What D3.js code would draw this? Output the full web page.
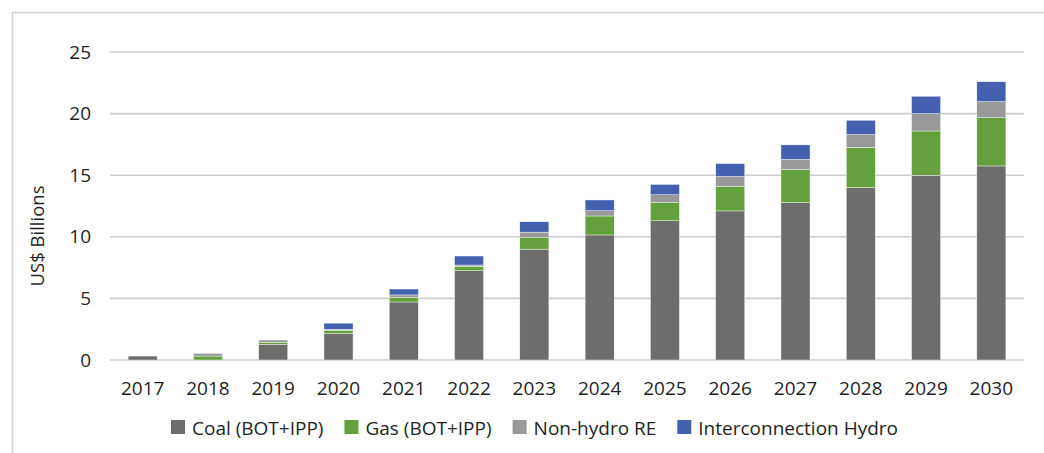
<!DOCTYPE html>
<html lang="en">
<head>
  <meta charset="UTF-8">
  <script src="https://cdn.jsdelivr.net/npm/d3@7"></script>
  <title>Investment by source</title>
  <style>
    body { margin: 0; background: #fff; }
    text { font-family: "Open Sans", sans-serif; fill: #1f1f1f; }
  </style>
</head>
<body>
  <script>
      // chart data (US$ billions)
      var years = ["2017","2018","2019","2020","2021","2022","2023","2024","2025","2026","2027","2028","2029","2030"];
      var seriesNames = ["Coal (BOT+IPP)", "Gas (BOT+IPP)", "Non-hydro RE", "Interconnection Hydro"];
      var coal  = [0.32, 0, 1.27, 2.16, 4.71, 7.25, 9.0, 10.15, 11.3, 12.1, 12.8, 14.0, 15.0, 15.75];
      var gas   = [0, 0.32, 0.16, 0.26, 0.38, 0.35, 0.92, 1.54, 1.51, 2.0, 2.68, 3.27, 3.59, 3.92];
      var re    = [0, 0.22, 0.19, 0.08, 0.19, 0.11, 0.46, 0.43, 0.6, 0.79, 0.81, 1.03, 1.41, 1.3];
      var hydro = [0, 0, 0, 0.49, 0.48, 0.73, 0.84, 0.87, 0.84, 1.05, 1.17, 1.16, 1.41, 1.62];
      var yTicks = [0, 5, 10, 15, 20, 25];

      var colors = ["#6d6e6c", "#65a03e", "#999999", "#4361ae"];

      var width = 1044, height = 453;

      var svg = d3.select("body")
        .append("svg")
        .attr("width", width)
        .attr("height", height);

      // outer frame (runs off the right and bottom edge)
      svg.append("rect")
        .attr("x", 12.5).attr("y", 12.5)
        .attr("width", 1100).attr("height", 500)
        .attr("fill", "none")
        .attr("stroke", "#d4d4d4")
        .attr("stroke-width", 1.5);

      var x = d3.scaleBand()
        .domain(years)
        .range([110, 1024])
        .paddingInner(0.555)
        .paddingOuter(0.2775);

      var y = d3.scaleLinear()
        .domain([0, 25])
        .range([360, 52]);

      // gridlines
      svg.append("g")
        .selectAll("line")
        .data(yTicks)
        .enter().append("line")
        .attr("x1", 110).attr("x2", 1024)
        .attr("y1", function(d){ return y(d); })
        .attr("y2", function(d){ return y(d); })
        .attr("stroke", "#cccccc")
        .attr("stroke-width", 1.6);

      // y axis labels
      var yAxis = svg.append("g")
        .attr("transform", "translate(110,0)")
        .call(d3.axisLeft(y).tickValues(yTicks).tickSize(0).tickPadding(19));
      yAxis.select(".domain").remove();
      yAxis.selectAll("text")
        .style("font-family", "'Open Sans', sans-serif")
        .style("font-size", "19px")
        .attr("fill", "#1f1f1f");

      // x axis labels
      var xAxis = svg.append("g")
        .attr("transform", "translate(0,360)")
        .call(d3.axisBottom(x).tickSize(0).tickPadding(22));
      xAxis.select(".domain").remove();
      xAxis.selectAll("text")
        .style("font-family", "'Open Sans', sans-serif")
        .style("font-size", "19px")
        .attr("fill", "#1f1f1f");

      // axis title
      svg.append("text")
        .attr("transform", "translate(44,236) rotate(-90)")
        .attr("text-anchor", "middle")
        .style("font-size", "18.5px")
        .text("US$ Billions");

      // stack the series
      var rows = years.map(function(yr, i){
        return { year: yr, s0: coal[i], s1: gas[i], s2: re[i], s3: hydro[i] };
      });
      var stacked = d3.stack().keys(["s0","s1","s2","s3"])(rows);

      var layers = svg.append("g")
        .selectAll("g")
        .data(stacked)
        .enter().append("g")
        .attr("fill", function(d, i){ return colors[i]; });

      layers.selectAll("rect")
        .data(function(d){ return d.filter(function(p){ return p[1] - p[0] > 0; }); })
        .enter().append("rect")
        .attr("x", function(d){ return x(d.data.year); })
        .attr("width", x.bandwidth())
        .attr("y", function(d){ return y(d[1]); })
        .attr("height", function(d){ return y(d[0]) - y(d[1]); })
        .attr("stroke", "#ffffff")
        .attr("stroke-width", 0.4);

      // legend
      var legend = svg.append("g").attr("transform", "translate(0,420)");
      var lx = 171;
      seriesNames.forEach(function(name, i){
        var item = legend.append("g").attr("transform", "translate(" + lx + ",0)");
        item.append("rect")
          .attr("width", 14).attr("height", 14)
          .attr("fill", colors[i]);
        var t = item.append("text")
          .attr("x", 21).attr("y", 14.5)
          .style("font-size", "19px")
          .text(name);
        lx += 21 + t.node().getComputedTextLength() + 21;
      });
  </script>
</body>
</html>
